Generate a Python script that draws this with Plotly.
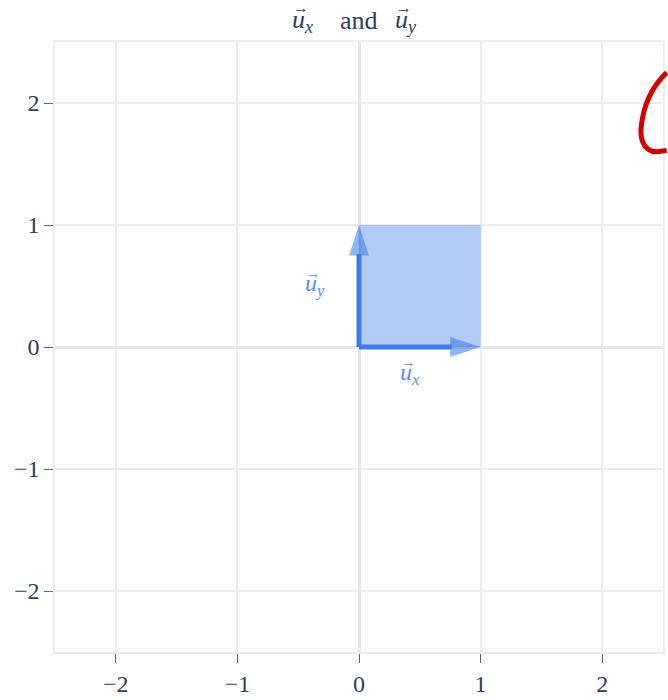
import plotly.graph_objects as go

# Unit basis vectors and the unit square they span
ux = [1, 0]
uy = [0, 1]
square_x = [0, ux[0], ux[0] + uy[0], uy[0], 0]
square_y = [0, ux[1], ux[1] + uy[1], uy[1], 0]

tick_vals = [-2, -1, 0, 1, 2]
tick_text = ["\u22122", "\u22121", "0", "1", "2"]
axis_range = [-2.5, 2.5]

line_color = "#3b7de8"
head_color = "rgba(59,125,232,0.82)"
fill_color = "rgba(59,125,232,0.4)"
label_color = "#5b8ff0"
text_color = "#2a3f5f"
serif = "Liberation Serif, Times New Roman, serif"

fig = go.Figure()

# Unit square
fig.add_trace(go.Scatter(
    x=square_x, y=square_y, mode="lines", fill="toself",
    fillcolor=fill_color, line=dict(width=0), hoverinfo="skip",
))

# Basis vectors drawn as arrows
for vec in (ux, uy):
    fig.add_trace(go.Scatter(
        x=[0, vec[0]], y=[0, vec[1]], mode="lines+markers",
        line=dict(color=line_color, width=5),
        marker=dict(symbol="arrow", size=[0, 32], angleref="previous",
                    color=head_color, line=dict(width=0)),
        hoverinfo="skip",
    ))


def vector_label(x, y, sub, color, size=24, xref="x", yref="y"):
    """Italic u with a subscript and a small arrow set above the u."""
    fig.add_annotation(x=x, y=y, xref=xref, yref=yref,
                       text=f"<i>u</i><sub><i>{sub}</i></sub>",
                       xanchor="left", yanchor="middle", showarrow=False,
                       font=dict(family=serif, size=size, color=color))
    fig.add_annotation(x=x, y=y, xref=xref, yref=yref, text="\u2192",
                       xanchor="left", yanchor="middle", showarrow=False,
                       xshift=1, yshift=size * 0.5,
                       font=dict(family=serif, size=size * 0.6, color=color))


vector_label(0.32, -0.22, "x", label_color)
vector_label(-0.46, 0.51, "y", label_color)

# Title built from pieces so the vector arrows sit above the u glyphs
px = lambda p: (p - 55) / 610
title_y = (652 - 21) / 610
vector_label(px(291), title_y, "x", text_color, size=26,
             xref="paper", yref="paper")
fig.add_annotation(x=px(360), y=title_y, xref="paper", yref="paper",
                   text="and", xanchor="center", yanchor="middle",
                   showarrow=False,
                   font=dict(family=serif, size=26, color=text_color))
vector_label(px(394), title_y, "y", text_color, size=26,
             xref="paper", yref="paper")

# Handwritten red stroke in the upper right corner
fig.add_shape(
    type="path", xref="paper", yref="paper",
    path="M1.006,0.950 C0.985,0.930 0.968,0.900 0.964,0.860 "
         "C0.962,0.835 0.972,0.820 0.990,0.820 L1.006,0.822",
    line=dict(color="#d40000", width=5),
)

axis_common = dict(
    range=axis_range, tickvals=tick_vals, ticktext=tick_text,
    showgrid=True, gridcolor="#ececec", gridwidth=1.5,
    zeroline=True, zerolinecolor="#e6e6e6", zerolinewidth=3,
    showline=True, mirror=True, linecolor="#ececec", linewidth=1.5,
    ticks="outside", ticklen=9, tickcolor="#666666", tickwidth=1,
    tickfont=dict(family=serif, size=24, color=text_color),
)

fig.update_layout(
    width=668, height=700,
    margin=dict(l=55, r=3, t=42, b=48),
    paper_bgcolor="white", plot_bgcolor="white",
    showlegend=False,
    xaxis=dict(**axis_common),
    yaxis=dict(**axis_common),
)

fig.write_html("out.html")
